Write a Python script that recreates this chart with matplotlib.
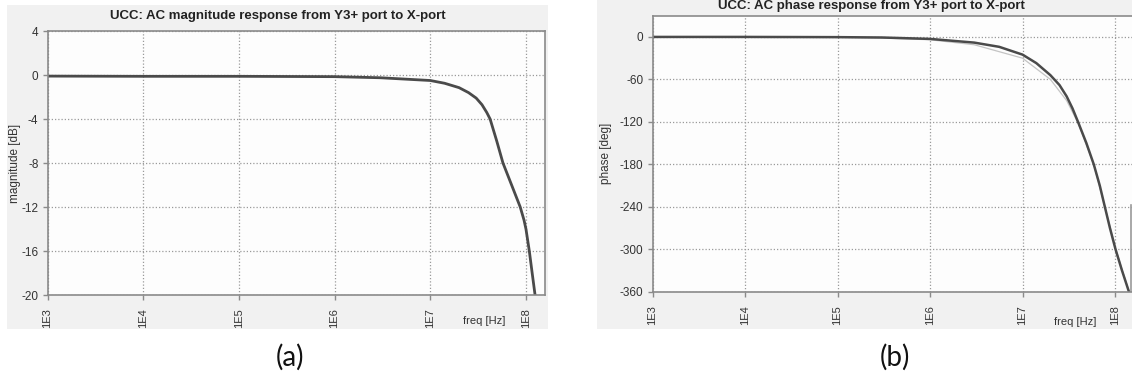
import numpy as np
import matplotlib
matplotlib.use("Agg")
import matplotlib.pyplot as plt
from matplotlib.patches import Rectangle

# ---------------- data ----------------
mag_freq = [1e3, 1e4, 1e5, 1e6, 3e6, 1e7, 1.41e7, 2.0e7, 2.51e7, 3.02e7, 3.47e7,
            3.89e7, 4.22e7, 4.95e7, 5.75e7, 7.08e7, 8.71e7, 9.55e7, 1.0e8,
            1.084e8, 1.161e8, 1.245e8, 1.303e8]
mag_db = [-0.1, -0.12, -0.12, -0.15, -0.25, -0.5, -0.75, -1.15, -1.6, -2.1, -2.7,
          -3.4, -4.0, -6.0, -8.0, -10.0, -12.0, -13.2, -14.0,
          -16.0, -18.0, -20.0, -21.5]

phase_freq = [1e3, 1e4, 1e5, 3e5, 1e6, 3e6, 5.6e6, 1e7, 1.41e7, 2.0e7, 2.51e7,
              3.0e7, 3.47e7, 3.98e7, 4.90e7, 5.89e7, 6.84e7, 7.76e7, 8.81e7,
              1.012e8, 1.189e8, 1.413e8, 1.48e8]
phase_deg = [0, 0, -0.3, -0.8, -2.8, -8, -14, -25, -37, -54, -68,
             -84, -101, -120, -150, -180, -210, -240, -270,
             -300, -330, -360, -372]

phase2_freq = [1e3, 1e5, 3e5, 1e6, 3e6, 1e7, 2e7, 3e7, 4e7, 5.89e7, 7.8e7, 1.02e8,
               1.2e8, 1.42e8]
phase2_deg = [0, -0.5, -1.5, -4, -11, -30, -60, -90, -122, -180, -241, -300,
              -330, -360]

wrap_freq = [1.49e8, 1.49e8]
wrap_deg = [-365, -238]

xticks = [1e3, 1e4, 1e5, 1e6, 1e7, 1e8]
xticklabels = ["1E3", "1E4", "1E5", "1E6", "1E7", "1E8"]
mag_yticks = [4, 0, -4, -8, -12, -16, -20]
phase_yticks = [0, -60, -120, -180, -240, -300, -360]

title_a = "UCC: AC magnitude response from Y3+ port to X-port"
title_b = "UCC: AC phase response from Y3+ port to X-port"

# ---------------- figure ----------------
W, H = 1132, 378
fig = plt.figure(figsize=(W / 100, H / 100), dpi=100)
fig.patch.set_facecolor("white")
FONT = ["Liberation Sans", "DejaVu Sans"]

def px_rect(x0, y0, x1, y1):
    return [x0 / W, 1 - y1 / H, (x1 - x0) / W, (y1 - y0) / H]

panel_col = "#f1f1f1"
for (x0, y0, x1, y1) in [(7, 5, 548, 329), (597, 0, 1132, 329)]:
    r = px_rect(x0, y0, x1, y1)
    fig.patches.append(Rectangle((r[0], r[1]), r[2], r[3], transform=fig.transFigure,
                                 facecolor=panel_col, edgecolor="none", zorder=-10))

ax1 = fig.add_axes(px_rect(47.5, 31, 545, 295))
ax2 = fig.add_axes(px_rect(652.5, 15.7, 1140, 291.7))

def style(ax, yticks, ylim, xmax, ylabel, ylabel_x):
    ax.set_facecolor("#fdfdfd")
    ax.set_xscale("log")
    ax.set_xlim(1e3, xmax)
    ax.set_ylim(*ylim)
    ax.set_xticks(xticks)
    ax.set_xticklabels(xticklabels, rotation=90, family=FONT, fontsize=8, color="#333333")
    ax.minorticks_off()
    ax.set_yticks(yticks)
    ax.set_yticklabels([str(v) for v in yticks], family=FONT, fontsize=8.5, color="#333333")
    ax.tick_params(axis="both", direction="out", length=3.5, width=1, color="#8a8a8a")
    ax.tick_params(axis="x", pad=6)
    ax.tick_params(axis="y", pad=3)
    for s in ax.spines.values():
        s.set_color("#8a8a8a")
        s.set_linewidth(1.2)
    ax.grid(True, linestyle=(0, (1, 1.6)), color="#9a9a9a", linewidth=0.9)
    ax.set_axisbelow(True)
    ax.set_ylabel(ylabel, family=FONT, fontsize=8.5, color="#333333")
    ax.yaxis.set_label_coords(ylabel_x, 0.5)

style(ax1, mag_yticks, (-20, 4), 10 ** 8.199, "magnitude [dB]", -0.054)
style(ax2, phase_yticks, (-360, 30), 10 ** 8.27, "phase [deg]", -0.084)

ax1.plot(mag_freq, mag_db, color="#4a4a4a", linewidth=2.0)
ax2.plot(phase2_freq, phase2_deg, color="#c4c4c4", linewidth=0.9)
ax2.plot(phase_freq, phase_deg, color="#4a4a4a", linewidth=1.8)
ax2.plot(wrap_freq, wrap_deg, color="#9a9a9a", linewidth=1.2)

fig.text(278 / W, 1 - 16 / H, title_a, ha="center", va="center", family=FONT,
         fontsize=9.5, fontweight="bold", color="#222222")
fig.text(871 / W, 1 - 6 / H, title_b, ha="center", va="center", family=FONT,
         fontsize=9.5, fontweight="bold", color="#222222")

fig.text(484 / W, 1 - 321 / H, "freq [Hz]", ha="center", va="center", family=FONT,
         fontsize=8, color="#333333")
fig.text(1075 / W, 1 - 321.7 / H, "freq [Hz]", ha="center", va="center", family=FONT,
         fontsize=8, color="#333333")

fig.text(290 / W, 1 - 357 / H, "(a)", ha="center", va="center", family=["Lato", "DejaVu Sans"],
         fontsize=20, color="#111111")
fig.text(895 / W, 1 - 357 / H, "(b)", ha="center", va="center", family=["Lato", "DejaVu Sans"],
         fontsize=20, color="#111111")

fig.savefig("out.png", dpi=100)
